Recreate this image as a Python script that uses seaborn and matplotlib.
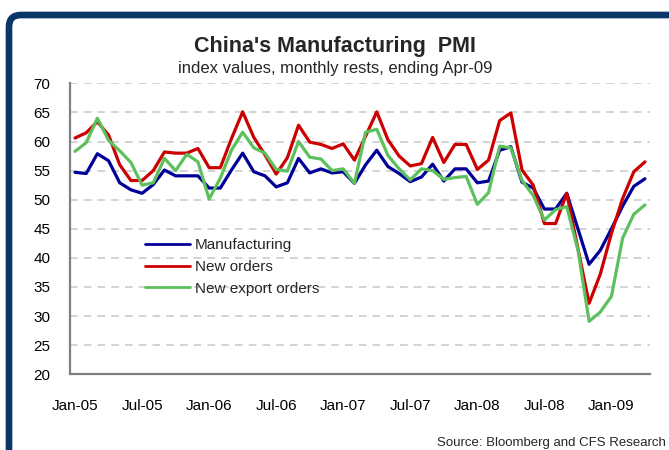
import matplotlib
matplotlib.use("Agg")
import matplotlib.pyplot as plt
from matplotlib.patches import FancyBboxPatch
import numpy as np
import pandas as pd
import seaborn as sns

# Monthly PMI readings, Jan-05 .. Apr-09
months = pd.period_range("2005-01", "2009-04", freq="M").strftime("%b-%y").tolist()

manufacturing = [
    54.7, 54.5, 57.9, 56.7, 52.9, 51.7, 51.1, 52.6, 55.1, 54.1, 54.1, 54.1,
    52.0, 52.0, 55.1, 58.0, 54.8, 54.1, 52.2, 52.9, 57.1, 54.6, 55.3, 54.6,
    54.8, 52.8, 56.0, 58.5, 55.7, 54.5, 53.1, 53.9, 56.1, 53.2, 55.3, 55.3,
    52.9, 53.2, 58.5, 59.1, 53.0, 52.0, 48.4, 48.4, 51.1, 45.0, 38.9, 41.3,
    45.0, 48.9, 52.3, 53.6,
]
new_orders = [
    60.6, 61.5, 63.4, 61.1, 56.0, 53.3, 53.3, 55.0, 58.2, 58.0, 58.0, 58.8,
    55.5, 55.5, 60.5, 65.1, 60.7, 57.7, 54.4, 57.2, 62.8, 59.9, 59.5, 58.8,
    59.6, 56.8, 60.9, 65.1, 60.3, 57.5, 55.8, 56.2, 60.7, 56.4, 59.5, 59.5,
    55.2, 56.8, 63.6, 64.9, 55.1, 52.5, 45.9, 45.9, 51.1, 41.6, 32.2, 37.2,
    44.2, 50.2, 54.8, 56.5,
]
new_export_orders = [
    58.3, 59.8, 64.0, 60.2, 58.4, 56.4, 52.5, 52.9, 57.1, 55.0, 57.8, 56.5,
    50.1, 53.7, 58.5, 61.6, 58.9, 58.0, 55.2, 54.9, 60.0, 57.3, 57.0, 55.0,
    55.3, 52.8, 61.6, 62.1, 57.6, 55.3, 53.4, 55.3, 55.0, 53.5, 53.8, 54.0,
    49.2, 51.2, 59.2, 58.9, 53.3, 50.7, 46.5, 48.3, 48.8, 41.4, 29.1, 30.7,
    33.4, 43.4, 47.5, 49.1,
]
series_names = ["Manufacturing", "New orders", "New export orders"]
series_colors = ["#000099", "#CC0000", "#5CC15C"]
y_ticks = [20, 25, 30, 35, 40, 45, 50, 55, 60, 65, 70]

sns.set_theme(style="white")
plt.rcParams["font.family"] = ["Liberation Sans", "DejaVu Sans"]

df = pd.DataFrame({
    "month": months * 3,
    "idx": list(range(len(months))) * 3,
    "value": manufacturing + new_orders + new_export_orders,
    "series": sum([[n] * len(months) for n in series_names], []),
})

fig = plt.figure(figsize=(6.69, 4.5), dpi=100)
fig.patch.set_facecolor("white")
ax = fig.add_axes([70 / 669, 1 - 374.3 / 450, 580 / 669, 291 / 450])

sns.lineplot(data=df, x="idx", y="value", hue="series", hue_order=series_names,
             palette=series_colors, linewidth=2.3, ax=ax, legend=True)

ax.set_xlim(-0.45, 51.45)
ax.set_ylim(20, 70)
ax.set_yticks(y_ticks)
ax.set_yticklabels([str(t) for t in y_ticks])
tick_idx = list(range(0, len(months), 6))
ax.set_xticks(tick_idx)
ax.set_xticklabels([months[i] for i in tick_idx])
ax.tick_params(axis="both", length=0, labelsize=11, colors="black")
ax.tick_params(axis="y", pad=14)
ax.tick_params(axis="x", pad=18)
ax.set_xlabel("")
ax.set_ylabel("")

# dashed horizontal gridlines
for t in y_ticks[1:]:
    ax.axhline(t, color="#c8c8c8", linewidth=1.1, linestyle=(0, (5, 4)), zorder=0)

for s in ["top", "right"]:
    ax.spines[s].set_visible(False)
for s in ["left", "bottom"]:
    ax.spines[s].set_color("#808080")
    ax.spines[s].set_linewidth(1.6)

leg = ax.legend(loc="upper left", bbox_to_anchor=(0.129, 0.467), frameon=False,
                fontsize=11, handlelength=2.95, handletextpad=0.35,
                labelspacing=0.5, borderpad=0, borderaxespad=0)
for line in leg.get_lines():
    line.set_linewidth(2.0)

fig.text(334.5 / 669, 1 - 51.7 / 450, "China's Manufacturing  PMI", ha="center",
         va="baseline", fontsize=15.5, fontweight="bold")
fig.text(335 / 669, 1 - 73 / 450, "index values, monthly rests, ending Apr-09",
         ha="center", va="baseline", fontsize=12)
fig.text(666 / 669, 1 - 446 / 450, "Source: Bloomberg and CFS Research",
         ha="right", va="baseline", fontsize=9.5)

# navy frame around the panel (right and bottom run off the canvas)
frame = FancyBboxPatch((0.09, -1.0), 7.5, 4.35 + 1.0,
                       boxstyle="round,pad=0,rounding_size=0.12",
                       transform=fig.dpi_scale_trans, fill=False,
                       edgecolor="#0b3768", linewidth=4.8, clip_on=False)
fig.patches.append(frame)

fig.savefig("out.png", dpi=100)
